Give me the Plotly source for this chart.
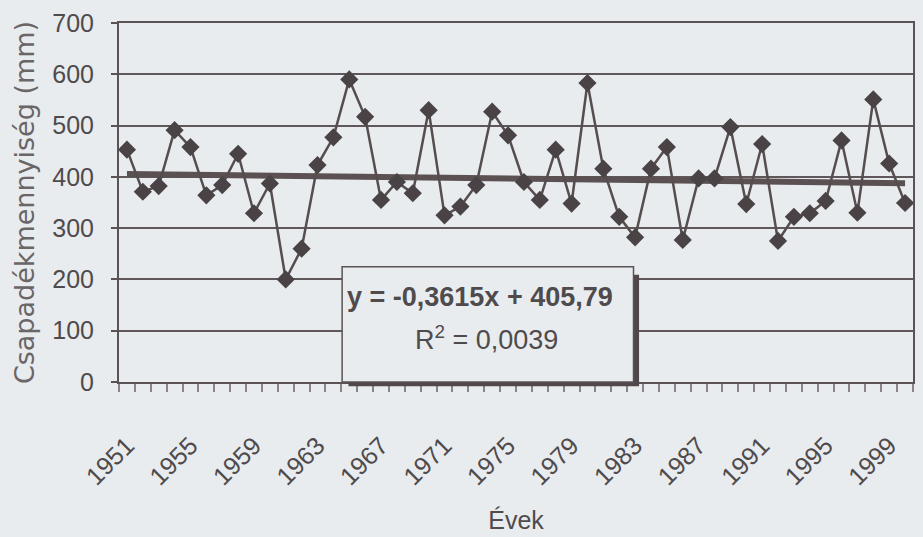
import plotly.graph_objects as go

years = list(range(1951, 2001))
precip = [453, 371, 382, 491, 458, 364, 384, 445, 329, 387,
          200, 260, 423, 477, 590, 517, 355, 390, 368, 530,
          325, 342, 384, 527, 481, 390, 355, 453, 348, 583,
          416, 322, 282, 416, 458, 277, 397, 397, 497, 347,
          464, 275, 322, 329, 353, 471, 330, 551, 426, 349]
trend_slope = -0.3615
trend_intercept = 405.79
r_squared = 0.0039
y_ticks = [0, 100, 200, 300, 400, 500, 600, 700]
x_tick_years = list(range(1951, 2001, 4))

BG = "#e8ecef"
INK = "#564d4f"
TXT = "#4f4a4c"
NARROW = "Liberation Sans Narrow, Arial Narrow, Liberation Sans, Arial, sans-serif"
SANS = "Liberation Sans, Arial, sans-serif"

trend_y = [trend_slope * (yr - years[0] + 1) + trend_intercept for yr in years]

fig = go.Figure()
fig.add_trace(go.Scatter(x=years, y=trend_y, mode="lines",
                         line=dict(color="#5b5153", width=6), hoverinfo="skip",
                         showlegend=False))
fig.add_trace(go.Scatter(x=years, y=precip, mode="lines+markers",
                         line=dict(color=INK, width=2.5),
                         marker=dict(symbol="diamond", size=14, color="#4a4345"),
                         showlegend=False))

# equation box (paper coords relative to the plot area)
bx0, bx1, by0, by1 = 0.281, 0.648, 0.0, 0.321
fig.add_shape(type="rect", xref="paper", yref="paper",
              x0=bx0 + 0.008, x1=bx1 + 0.007, y0=by0 - 0.012, y1=by1 - 0.022,
              fillcolor="#4f4749", line=dict(width=0), layer="above")
fig.add_shape(type="rect", xref="paper", yref="paper",
              x0=bx0, x1=bx1, y0=by0, y1=by1,
              fillcolor=BG, line=dict(color="#5a5254", width=1.5), layer="above")
eq_text = "y = %sx + %s" % (str(trend_slope).replace(".", ","),
                            str(trend_intercept).replace(".", ","))
fig.add_annotation(xref="paper", yref="paper", x=0.455, y=0.237,
                   text="<b>%s</b>" % eq_text,
                   showarrow=False, font=dict(family=SANS, size=27, color=TXT),
                   xanchor="center", yanchor="middle")
fig.add_annotation(xref="paper", yref="paper", x=0.463, y=0.122,
                   text="R<sup>2</sup> = %s" % str(r_squared).replace(".", ","),
                   showarrow=False, font=dict(family=SANS, size=27, color=TXT),
                   xanchor="center", yanchor="middle")

fig.update_layout(
    width=923, height=537,
    margin=dict(l=119, r=10, t=23, b=155),
    paper_bgcolor=BG, plot_bgcolor=BG,
    font=dict(family=SANS, color=TXT),
    xaxis=dict(
        automargin=False,
        range=[years[0] - 0.5, years[-1] + 0.5],
        tickmode="array", tickvals=x_tick_years,
        ticktext=[str(v) for v in x_tick_years],
        tickangle=-45, ticks="",
        tickfont=dict(family=SANS, size=25, color=TXT),
        ticklabelstandoff=37,
        showgrid=False, zeroline=False,
        showline=True, linecolor="#5a5254", linewidth=2, mirror=True,
        minor=dict(ticks="outside", tickmode="linear", tick0=years[0] - 0.5, dtick=1,
                   ticklen=8, tickcolor="#8a8486", tickwidth=1.5, showgrid=False),
        title=dict(text="Évek", font=dict(family=NARROW, size=25, color=TXT), standoff=22),
    ),
    yaxis=dict(
        automargin=False,
        range=[0, 700], tickmode="array", tickvals=y_ticks,
        ticks="outside", ticklen=6, tickcolor="#5a5254", tickwidth=1.5,
        tickfont=dict(family=NARROW, size=25, color=TXT),
        ticklabelstandoff=12,
        showgrid=True, gridcolor="#5f5759", gridwidth=1.5,
        zeroline=False,
        showline=True, linecolor="#5a5254", linewidth=2, mirror=True,
        title=dict(text="Csapadékmennyiség (mm)",
                   font=dict(family="DejaVu Sans, sans-serif", size=27, color="#6a6567"),
                   standoff=10),
    ),
)

fig.write_html("out.html")
